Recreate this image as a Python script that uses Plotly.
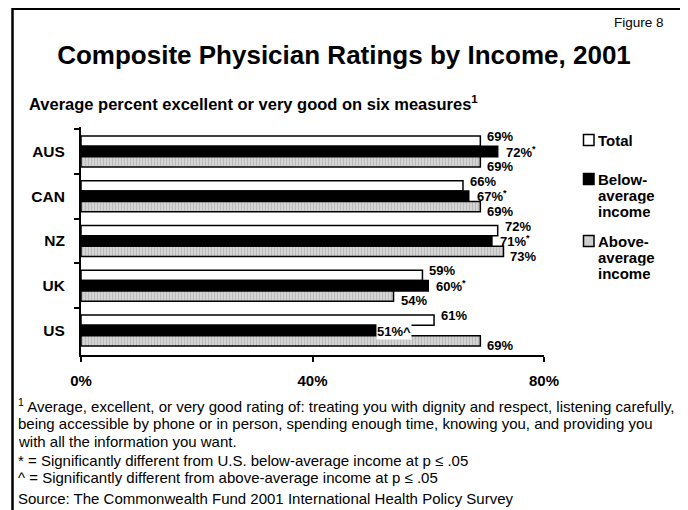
import plotly.graph_objects as go

countries = ["AUS", "CAN", "NZ", "UK", "US"]
total = [69, 66, 72, 59, 61]
below = [72, 67, 71, 60, 51]
above = [69, 69, 73, 54, 69]
below_marks = ["*", "*", "*", "*", "^"]
series_names = ["Total", "Below-average income", "Above-average income"]
legend_lines = [["Total"], ["Below-", "average", "income"], ["Above-", "average", "income"]]
x_ticks = [0, 40, 80]
x_tick_labels = ["0%", "40%", "80%"]

title = "Composite Physician Ratings by Income, 2001"
subtitle = "Average percent excellent or very good on six measures<sup>1</sup>"
fig_label = "Figure 8"
footnotes = [
    "<sup>1</sup> Average, excellent, or very good rating of: treating you with dignity and respect, listening carefully,",
    "being accessible by phone or in person, spending enough time, knowing you, and providing you",
    "with all the information you want.",
    "* = Significantly different from U.S. below-average income at p \u2264 .05",
    "^ = Significantly different from above-average income at p \u2264 .05",
]
source = "Source: The Commonwealth Fund 2001 International Health Policy Survey"

FONT = "Liberation Sans, Arial, sans-serif"
OFF = 8  # page body margin
W, H = 680, 502
L, T = 81 - OFF, 127 - OFF
R = W - (544 - OFF)
B = H - (355 - OFF)
PW, PH = W - L - R, H - T - B


# helpers take positions in window pixels
def px_x(p):
    return (p - OFF - L) / PW


def px_y(p):
    return (H - B - (p - OFF)) / PH


fills = ["white", "black", "#cfcfcf"]
fig = go.Figure()
line = dict(color="black", width=1.5)
fig.add_trace(go.Bar(name=series_names[0], y=countries, x=total, orientation="h",
                     marker=dict(color=fills[0], line=line)))
fig.add_trace(go.Bar(name=series_names[1], y=countries, x=below, orientation="h",
                     marker=dict(color=fills[1], line=line)))
fig.add_trace(go.Bar(name=series_names[2], y=countries, x=above, orientation="h",
                     marker=dict(color=fills[2], line=line,
                                 pattern=dict(shape="|", fgcolor="#a0a0a0", bgcolor="#d4d4d4",
                                              size=3, solidity=0.35))))

ann = []
bold = dict(family=FONT, size=13, color="black")
for c, v in zip(countries, total):
    ann.append(dict(x=v, y=c, xref="x", yref="y", text=f"<b>{v}%</b>", showarrow=False,
                    xanchor="left", yanchor="middle", xshift=5, yshift=15, font=bold))
for c, v, m in zip(countries, below, below_marks):
    if m == "^":
        ann.append(dict(x=v, y=c, xref="x", yref="y", text=f"<b>{v}%{m}</b>", showarrow=False,
                        xanchor="left", yanchor="middle", xshift=0, yshift=-1, font=bold,
                        bgcolor="white", borderpad=0))
    else:
        ann.append(dict(x=v, y=c, xref="x", yref="y", text=f"<b>{v}%<sup>{m}</sup></b>", showarrow=False,
                        xanchor="left", yanchor="middle", xshift=6, yshift=0, font=bold))
for c, v in zip(countries, above):
    ann.append(dict(x=v, y=c, xref="x", yref="y", text=f"<b>{v}%</b>", showarrow=False,
                    xanchor="left", yanchor="middle", xshift=5, yshift=-15, font=bold))

ann.append(dict(xref="paper", yref="paper", x=px_x(27), y=px_y(103), text=f"<b>{subtitle}</b>",
                showarrow=False, xanchor="left", yanchor="middle",
                font=dict(family=FONT, size=16.5, color="black")))
ann.append(dict(xref="paper", yref="paper", x=px_x(666), y=px_y(22), text=fig_label,
                showarrow=False, xanchor="right", yanchor="middle",
                font=dict(family=FONT, size=13.5, color="black")))
foot_y = [405, 423, 441, 460, 477]
for t, yy in zip(footnotes, foot_y):
    ann.append(dict(xref="paper", yref="paper", x=px_x(16), y=px_y(yy), text=t,
                    showarrow=False, xanchor="left", yanchor="middle",
                    font=dict(family=FONT, size=15, color="black")))
ann.append(dict(xref="paper", yref="paper", x=px_x(16), y=px_y(498), text=source,
                showarrow=False, xanchor="left", yanchor="middle",
                font=dict(family=FONT, size=15, color="black")))

# legend (key) built beside the plot
shapes = []
key_first_y = [140, 179, 241]
line_step = 16
for fill, lines, y0 in zip(fills, legend_lines, key_first_y):
    shapes.append(dict(type="rect", xref="paper", yref="paper",
                       x0=px_x(583.5), x1=px_x(594), y0=px_y(y0 + 5.5), y1=px_y(y0 - 5.5),
                       line=dict(color="black", width=1.5), fillcolor=fill))
    for i, t in enumerate(lines):
        ann.append(dict(xref="paper", yref="paper", x=px_x(597), y=px_y(y0 + i * line_step),
                        text=f"<b>{t}</b>", showarrow=False, xanchor="left", yanchor="middle",
                        height=15.4, borderpad=0,
                        font=dict(family=FONT, size=15, color="black")))

shapes.append(dict(type="rect", xref="paper", yref="paper",
                   x0=px_x(12.5), x1=px_x(681.5), y0=px_y(530), y1=px_y(OFF + 0.8),
                   line=dict(color="black", width=2.5), fillcolor="rgba(0,0,0,0)", layer="below"))

fig.update_layout(
    width=W, height=H, autosize=False,
    margin=dict(l=L, r=R, t=T, b=B, pad=0),
    paper_bgcolor="white", plot_bgcolor="white",
    barmode="group", bargap=0.31, bargroupgap=0,
    showlegend=False,
    title=dict(text=f"<b>{title}</b>", x=0.5 + (344 - OFF - W / 2) / W, xref="container", xanchor="center",
               y=1 - (55 - OFF) / H, yref="container", yanchor="middle",
               font=dict(family=FONT, size=26, color="black")),
    font=dict(family=FONT, color="black"),
    xaxis=dict(range=[0, 80], tickvals=x_ticks, ticktext=x_tick_labels,
               showgrid=False, zeroline=False, showline=True, linecolor="black", linewidth=2,
               ticks="outside", ticklen=5, tickwidth=2, tickcolor="black",
               tickfont=dict(family=FONT, size=15, color="black", weight="bold"),
               ticklabelstandoff=6),
    yaxis=dict(categoryorder="array", categoryarray=countries, autorange="reversed",
               showgrid=False, zeroline=False, showline=True, linecolor="black", linewidth=2,
               ticks="outside", ticklen=5, tickwidth=2, tickcolor="black", tickson="boundaries",
               tickfont=dict(family=FONT, size=15.5, color="black", weight="bold"),
               ticklabelstandoff=11),
    annotations=ann,
    shapes=shapes,
)

fig.write_html("out.html")
